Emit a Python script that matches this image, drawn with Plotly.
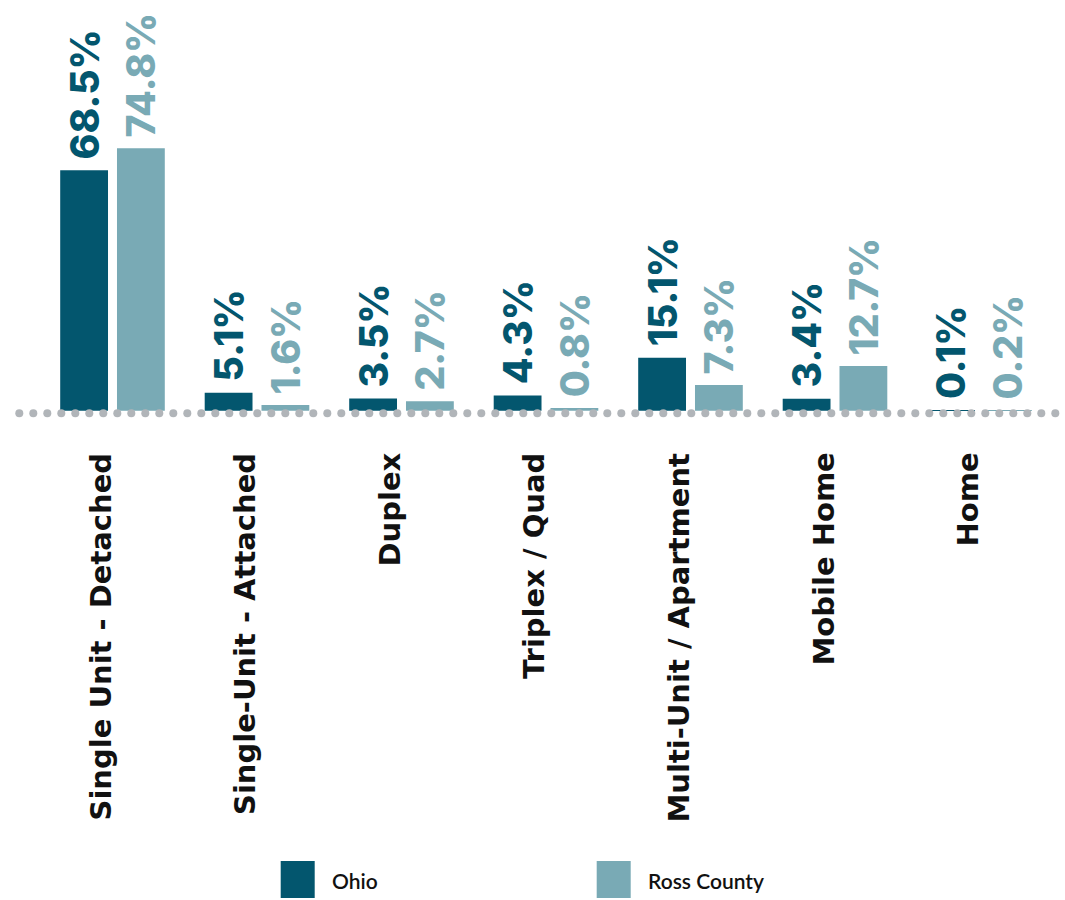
import numpy as np
import plotly.graph_objects as go

# Housing type shares, Ohio vs Ross County (percent)
categories = ["Single Unit - Detached", "Single-Unit - Attached", "Duplex",
              "Triplex / Quad", "Multi-Unit / Apartment", "Mobile Home", "Home"]
ohio = [68.5, 5.1, 3.5, 4.3, 15.1, 3.4, 0.1]
ross = [74.8, 1.6, 2.7, 0.8, 7.3, 12.7, 0.2]
series_names = ["Ohio", "Ross County"]

OHIO_COLOR = "#03566e"
ROSS_COLOR = "#79aab5"
DOT_COLOR = "#b1b5b9"
TEXT_COLOR = "#111111"
CAT_FONT = "DejaVu Sans"
VALUE_FONT = "Inter"
LEGEND_FONT = "Lato"

W, H = 1065, 900
PLOT_BOTTOM_PX = 420          # bottom edge of plotting area, in pixels from top
BASE_PX = 410.7               # pixel row of the zero line
PX_PER_UNIT = 3.51            # vertical scale
CAT_STEP_PX = 144.5           # spacing between category centres
FIRST_CAT_PX = 112.5          # pixel column of the first category centre
BARGAP = 0.214
BARGROUPGAP = 0.158

x_pos = np.arange(len(categories))
x_range = [(0 - FIRST_CAT_PX) / CAT_STEP_PX, (W - FIRST_CAT_PX) / CAT_STEP_PX]
y_range = [-(PLOT_BOTTOM_PX - BASE_PX) / PX_PER_UNIT, BASE_PX / PX_PER_UNIT]
# centre offset of each bar inside its group (two bars per group)
slot = (1 - BARGAP) / 2
offsets = [-slot / 2, slot / 2]


def px_to_paper_x(px):
    return px / W


def px_to_paper_y(py):
    return (PLOT_BOTTOM_PX - py) / PLOT_BOTTOM_PX


fig = go.Figure()
for k, (name, vals, color) in enumerate([(series_names[0], ohio, OHIO_COLOR),
                                         (series_names[1], ross, ROSS_COLOR)]):
    fig.add_trace(go.Bar(
        x=x_pos, y=vals, name=name, marker_color=color, marker_line_width=0,
        showlegend=False, hovertemplate="%{y:.1f}%<extra>" + name + "</extra>",
    ))
    # rotated value labels above each bar
    for xi, v in zip(x_pos, vals):
        fig.add_annotation(
            x=xi + offsets[k], y=v, xref="x", yref="y", text=f"{v:.1f}%",
            textangle=-90, xanchor="center", yanchor="bottom", yshift=9,
            showarrow=False,
            font=dict(family=VALUE_FONT, size=39, color=color, weight=800),
        )

# dotted baseline running across the full width
dot_px = np.arange(19.3, 1062, 14.0)
fig.add_trace(go.Scatter(
    x=(dot_px - FIRST_CAT_PX) / CAT_STEP_PX,
    y=np.full(len(dot_px), -(413.3 - BASE_PX) / PX_PER_UNIT),
    mode="markers", marker=dict(size=8, color=DOT_COLOR),
    hoverinfo="skip", showlegend=False, cliponaxis=False,
))

# rotated category labels under the baseline
for xi, cat in zip(x_pos, categories):
    fig.add_annotation(
        x=xi, y=px_to_paper_y(451), xref="x", yref="paper", text=cat,
        textangle=-90, xanchor="center", yanchor="top", xshift=-12,
        showarrow=False,
        font=dict(family=CAT_FONT, size=29, color=TEXT_COLOR, weight="bold"),
    )

# custom legend: squares with labels
legend_items = [(series_names[0], OHIO_COLOR, 280.7, 330),
                (series_names[1], ROSS_COLOR, 596.7, 646)]
for label, color, sq_x, txt_x in legend_items:
    fig.add_shape(type="rect", xref="paper", yref="paper",
                  x0=px_to_paper_x(sq_x), x1=px_to_paper_x(sq_x + 34),
                  y0=px_to_paper_y(898), y1=px_to_paper_y(861),
                  fillcolor=color, line_width=0)
    fig.add_annotation(text=label, xref="paper", yref="paper",
                       x=px_to_paper_x(txt_x), y=px_to_paper_y(880),
                       xanchor="left", yanchor="middle", showarrow=False,
                       font=dict(family=LEGEND_FONT, size=21, color=TEXT_COLOR, weight=600))

fig.update_layout(
    width=W, height=H,
    margin=dict(l=0, r=0, t=0, b=H - PLOT_BOTTOM_PX, pad=0),
    paper_bgcolor="white", plot_bgcolor="white",
    barmode="group", bargap=BARGAP, bargroupgap=BARGROUPGAP,
    xaxis=dict(range=x_range, showticklabels=False, showgrid=False,
               zeroline=False, showline=False, ticks=""),
    yaxis=dict(range=y_range, visible=False, showgrid=False, zeroline=False),
)

fig.write_html("out.html")
